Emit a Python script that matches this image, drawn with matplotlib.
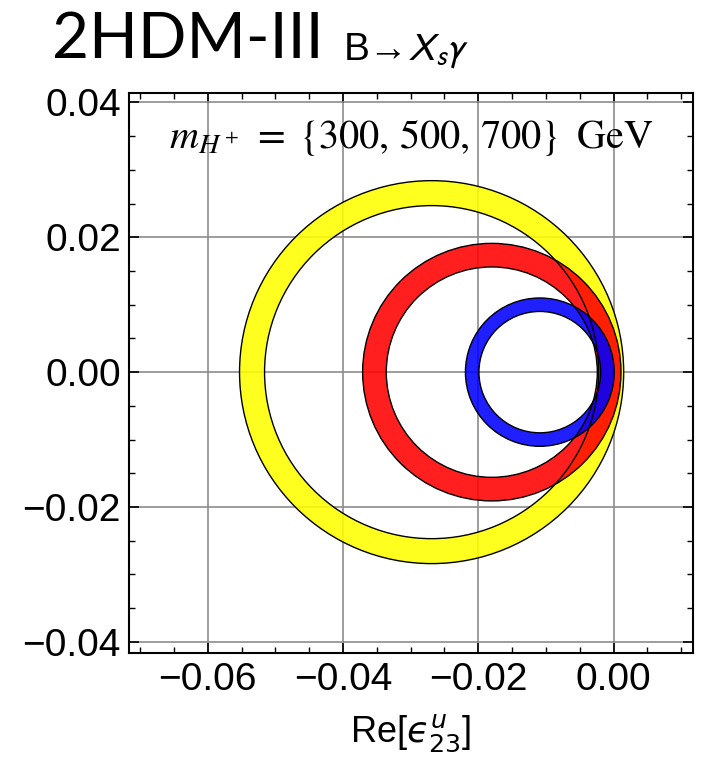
import matplotlib
matplotlib.use("Agg")
import matplotlib.pyplot as plt
from matplotlib.patches import Wedge, Circle
from matplotlib.ticker import MultipleLocator, FuncFormatter

plt.rcParams.update({
    "font.family": ["Liberation Sans", "DejaVu Sans"],
    "axes.linewidth": 1.5,
    "xtick.direction": "in",
    "ytick.direction": "in",
    "xtick.top": True,
    "ytick.right": True,
})

# allowed band in the Re/Im plane of eps_23^u, one ring per charged-Higgs mass
masses = [700, 500, 300]
center_re = [-0.0269, -0.0180, -0.0109]
center_im = [0.0, 0.0, 0.0]
r_outer = [0.0284, 0.0191, 0.0110]
r_inner = [0.0247, 0.0156, 0.0090]
ring_colors = ["#ffff00", "#ff0000", "#0000ff"]

x_major = [-0.06, -0.04, -0.02, 0.00]
y_major = [-0.04, -0.02, 0.00, 0.02, 0.04]


def _fmt(v, _pos):
    s = f"{v:.2f}"
    if s == "-0.00":
        s = "0.00"
    return s.replace("-", "\u2212")


fig = plt.figure(figsize=(7.02, 7.63), dpi=100)
ax = fig.add_axes([0.1842, 0.1438, 0.8025, 0.7343])

for m, cx, cy, ro, ri, col in zip(masses, center_re, center_im,
                                  r_outer, r_inner, ring_colors):
    ax.add_patch(Wedge((cx, cy), ro, 0, 360, width=ro - ri, facecolor=col,
                       edgecolor="none", alpha=0.88, zorder=2, label=f"{m} GeV"))
for cx, cy, ro, ri in zip(center_re, center_im, r_outer, r_inner):
    for r in (ro, ri):
        ax.add_patch(Circle((cx, cy), r, fill=False, edgecolor="black",
                            lw=1.0, zorder=3))

ax.set_xlim(-0.0716, 0.0117)
ax.set_ylim(-0.0417, 0.0414)
ax.set_xticks(x_major)
ax.set_yticks(y_major)
ax.xaxis.set_minor_locator(MultipleLocator(0.005))
ax.yaxis.set_minor_locator(MultipleLocator(0.005))
ax.xaxis.set_major_formatter(FuncFormatter(_fmt))
ax.yaxis.set_major_formatter(FuncFormatter(_fmt))
ax.tick_params(which="major", length=7, width=1.2, labelsize=28, pad=6)
ax.tick_params(which="minor", length=4, width=1.0)
ax.grid(True, which="major", color="#8c8c8c", lw=1.2, zorder=1)
ax.set_axisbelow(True)

ax.text(0.5, 0.902,
        r"$m_{H^+}\;=\;\{300,\,500,\,700\}\;\;\mathrm{GeV}$",
        transform=ax.transAxes, ha="center", va="baseline", fontsize=29,
        math_fontfamily="stix", zorder=5)
ax.set_xlabel("Re[$\u03f5^{u}_{23}$]", fontsize=26, labelpad=11,
              math_fontfamily="dejavusans")

fig.text(0.0736, 0.9236, "2HDM-III", fontsize=46, family="Lato",
         va="baseline", ha="left")
fig.text(0.4886, 0.9214, r"B→$X_s\gamma$", fontsize=28,
         family=["Liberation Sans", "DejaVu Sans"], va="baseline", ha="left",
         math_fontfamily="stixsans")

fig.savefig("out.png", dpi=100)
